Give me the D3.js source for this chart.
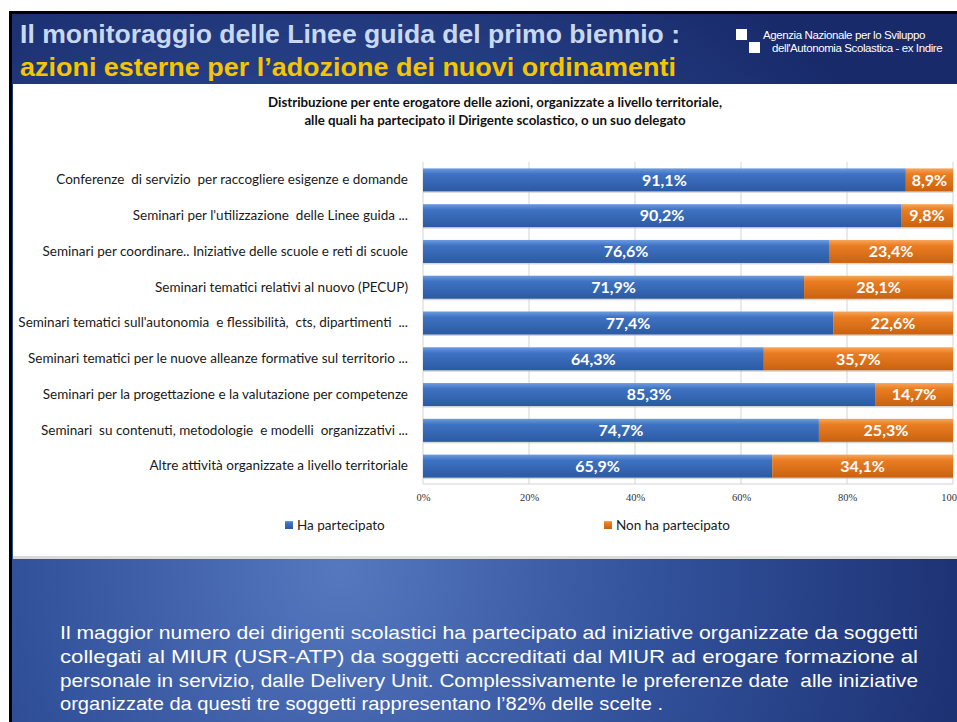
<!DOCTYPE html>
<html>
<head>
<meta charset="utf-8">
<script src="https://cdn.jsdelivr.net/npm/d3@7"></script>
<style>
  body { margin: 0; background: #fff; }
</style>
</head>
<body>
<div id="visual"></div>
<script>
// data
const categories = [
  "Conferenze  di servizio  per raccogliere esigenze e domande",
  "Seminari per l'utilizzazione  delle Linee guida ...",
  "Seminari per coordinare.. Iniziative delle scuole e reti di scuole",
  "Seminari tematici relativi al nuovo (PECUP)",
  "Seminari tematici sull'autonomia  e flessibilità,  cts, dipartimenti  ...",
  "Seminari tematici per le nuove alleanze formative sul territorio ...",
  "Seminari per la progettazione e la valutazione per competenze",
  "Seminari  su contenuti, metodologie  e modelli  organizzativi ...",
  "Altre attività organizzate a livello territoriale"
];
const partecipato = [91.1, 90.2, 76.6, 71.9, 77.4, 64.3, 85.3, 74.7, 65.9];
const nonPartecipato = [8.9, 9.8, 23.4, 28.1, 22.6, 35.7, 14.7, 25.3, 34.1];
const seriesNames = ["Ha partecipato", "Non ha partecipato"];
const tickValues = [0, 20, 40, 60, 80, 100];
const noteLines = [
  "Il maggior numero dei dirigenti scolastici ha partecipato ad iniziative organizzate da soggetti",
  "collegati al MIUR (USR-ATP) da soggetti accreditati dal MIUR ad erogare formazione al",
  "personale in servizio, dalle Delivery Unit. Complessivamente le preferenze date  alle iniziative",
  "organizzate da questi tre soggetti rappresentano l’82% delle scelte ."
];

const W = 957, H = 722;

let svg = d3.select("#visual").append("svg")
  .attr("width", W).attr("height", H)
  .style("display", "block");

let defs = svg.append("defs");

// slide background
let bg = defs.append("radialGradient").attr("id", "slideBg")
  .attr("gradientUnits", "userSpaceOnUse")
  .attr("cx", 340).attr("cy", 570).attr("r", 700);
bg.append("stop").attr("offset", 0).attr("stop-color", "#5578bf");
bg.append("stop").attr("offset", 0.45).attr("stop-color", "#32529c");
bg.append("stop").attr("offset", 1).attr("stop-color", "#182a6a");

function barGradient(id, top, mid, bottom) {
  let g = defs.append("linearGradient").attr("id", id)
    .attr("x1", 0).attr("y1", 0).attr("x2", 0).attr("y2", 1);
  g.append("stop").attr("offset", 0).attr("stop-color", top);
  g.append("stop").attr("offset", 0.25).attr("stop-color", mid);
  g.append("stop").attr("offset", 1).attr("stop-color", bottom);
}
barGradient("gBlue", "#6c9be0", "#3e72c2", "#2c5aa3");
barGradient("gOrange", "#f7a65a", "#ea7d22", "#c9620f");

svg.append("rect").attr("width", W).attr("height", H).attr("fill", "#fff");
// black frame edge
svg.append("rect").attr("x", 9).attr("y", 11).attr("width", W).attr("height", H)
  .attr("fill", "#000");
svg.append("rect").attr("x", 12).attr("y", 14).attr("width", W).attr("height", H)
  .attr("fill", "url(#slideBg)");

// slide titles
svg.append("text").attr("x", 20).attr("y", 43)
  .attr("textLength", 660).attr("lengthAdjust", "spacingAndGlyphs")
  .style("font-family", "Liberation Sans, Arial, sans-serif")
  .style("font-size", "26px").style("font-weight", "bold")
  .style("fill", "#c9d8f1")
  .text("Il monitoraggio delle Linee guida del primo biennio :");
svg.append("text").attr("x", 20).attr("y", 76)
  .attr("textLength", 656).attr("lengthAdjust", "spacingAndGlyphs")
  .style("font-family", "Liberation Sans, Arial, sans-serif")
  .style("font-size", "26px").style("font-weight", "bold")
  .style("fill", "#f6c500")
  .text("azioni esterne  per l’adozione dei nuovi ordinamenti");

// logo
svg.append("rect").attr("x", 736).attr("y", 29).attr("width", 11).attr("height", 11).attr("fill", "#fff");
svg.append("rect").attr("x", 749).attr("y", 42).attr("width", 11).attr("height", 11).attr("fill", "#fff");
svg.append("text").attr("x", 763).attr("y", 39)
  .style("font-family", "Liberation Sans, Arial, sans-serif").style("font-size", "11.5px")
  .style("fill", "#fff").style("letter-spacing", "-0.4px")
  .text("Agenzia Nazionale per lo Sviluppo");
svg.append("text").attr("x", 772).attr("y", 52)
  .style("font-family", "Liberation Sans, Arial, sans-serif").style("font-size", "11.5px")
  .style("fill", "#fff").style("letter-spacing", "-0.4px")
  .text("dell'Autonomia Scolastica - ex Indire");

// white chart panel
svg.append("rect").attr("x", 13).attr("y", 84).attr("width", W - 13).attr("height", 475)
  .attr("fill", "#d9d9d9");
svg.append("rect").attr("x", 13).attr("y", 84).attr("width", W - 13).attr("height", 472)
  .attr("fill", "#fff");

// chart title
const titleLines = [
  "Distribuzione per ente erogatore delle azioni, organizzate a livello territoriale,",
  "alle quali ha partecipato il Dirigente scolastico, o un suo delegato"
];
svg.selectAll(".ctitle").data(titleLines).enter().append("text")
  .attr("class", "ctitle")
  .attr("x", 495).attr("y", (d, i) => 107 + i * 18)
  .attr("text-anchor", "middle")
  .style("font-family", "Lato, sans-serif").style("font-size", "13.3px")
  .style("font-weight", "bold").style("fill", "#111")
  .text(d => d);

// scales
let x = d3.scaleLinear().domain([0, 100]).range([423, 953]);
let y = d3.scaleBand().domain(categories).range([162, 484])
  .paddingInner(0.357).paddingOuter(0.1785);

// gridlines
svg.append("g").selectAll("line").data(tickValues).enter().append("line")
  .attr("x1", d => x(d)).attr("x2", d => x(d))
  .attr("y1", 162).attr("y2", 484)
  .style("stroke", "#d4d4d4").style("stroke-width", 1);
svg.append("line").attr("x1", x(0)).attr("x2", x(100)).attr("y1", 484).attr("y2", 484)
  .style("stroke", "#d4d4d4");

// x axis
let xAxis = svg.append("g").attr("transform", "translate(0,484)")
  .call(d3.axisBottom(x).tickValues(tickValues).tickSize(0).tickPadding(10).tickFormat(d => d + "%"));
xAxis.select(".domain").remove();
xAxis.selectAll("text")
  .style("font-family", "Liberation Serif, Times New Roman, serif")
  .style("font-size", "10.5px").style("fill", "#333");

// y axis labels
let yAxis = svg.append("g").attr("transform", "translate(" + x(0) + ",0)")
  .call(d3.axisLeft(y).tickSize(0).tickPadding(15));
yAxis.select(".domain").remove();
yAxis.selectAll("text")
  .style("font-family", "Lato, sans-serif").style("font-size", "13.5px")
  .style("fill", "#1a1a1a").style("white-space", "pre");

// bars
let rows = categories.map((c, i) => ({ cat: c, a: partecipato[i], b: nonPartecipato[i] }));

let bars = svg.append("g").selectAll("g").data(rows).enter().append("g");

bars.append("rect")
  .attr("x", x(0)).attr("y", d => y(d.cat) + 1.5)
  .attr("width", d => x(d.a + d.b) - x(0)).attr("height", y.bandwidth())
  .style("fill", "#bdbdbd").style("opacity", 0.6);

bars.append("rect")
  .attr("x", x(0)).attr("y", d => y(d.cat))
  .attr("width", d => x(d.a) - x(0)).attr("height", y.bandwidth())
  .style("fill", "url(#gBlue)");

bars.append("rect")
  .attr("x", d => x(d.a)).attr("y", d => y(d.cat))
  .attr("width", d => x(d.a + d.b) - x(d.a)).attr("height", y.bandwidth())
  .style("fill", "url(#gOrange)");

const fmt = v => v.toFixed(1).replace(".", ",") + "%";

bars.append("text")
  .attr("x", d => (x(0) + x(d.a)) / 2).attr("y", d => y(d.cat) + y.bandwidth() / 2)
  .attr("dy", "0.36em").attr("text-anchor", "middle")
  .style("font-family", "Lato, sans-serif").style("font-size", "16px")
  .style("font-weight", "bold").style("fill", "#fff")
  .text(d => fmt(d.a));

bars.append("text")
  .attr("x", d => (x(d.a) + x(d.a + d.b)) / 2).attr("y", d => y(d.cat) + y.bandwidth() / 2)
  .attr("dy", "0.36em").attr("text-anchor", "middle")
  .style("font-family", "Lato, sans-serif").style("font-size", "16px")
  .style("font-weight", "bold").style("fill", "#fff")
  .text(d => fmt(d.b));

// legend
const legendX = [285, 604];
let legend = svg.append("g").selectAll("g").data(seriesNames).enter().append("g")
  .attr("transform", (d, i) => "translate(" + legendX[i] + ",521)");
legend.append("rect").attr("width", 8).attr("height", 8)
  .style("fill", (d, i) => i === 0 ? "url(#gBlue)" : "url(#gOrange)");
legend.append("text").attr("x", 12).attr("y", 8.5)
  .style("font-family", "Lato, sans-serif").style("font-size", "13.5px")
  .style("fill", "#1a1a1a")
  .text(d => d);

// note paragraph, justified lines
const noteWidths = [858, 858, 858, 603];
svg.append("g").selectAll("text").data(noteLines).enter().append("text")
  .attr("x", 60).attr("y", (d, i) => 639 + i * 23.8)
  .attr("textLength", (d, i) => noteWidths[i])
  .attr("lengthAdjust", "spacingAndGlyphs")
  .style("font-family", "Liberation Sans, Arial, sans-serif")
  .style("font-size", "19px").style("fill", "#fff")
  .style("white-space", "pre")
  .text(d => d);
</script>
</body>
</html>
